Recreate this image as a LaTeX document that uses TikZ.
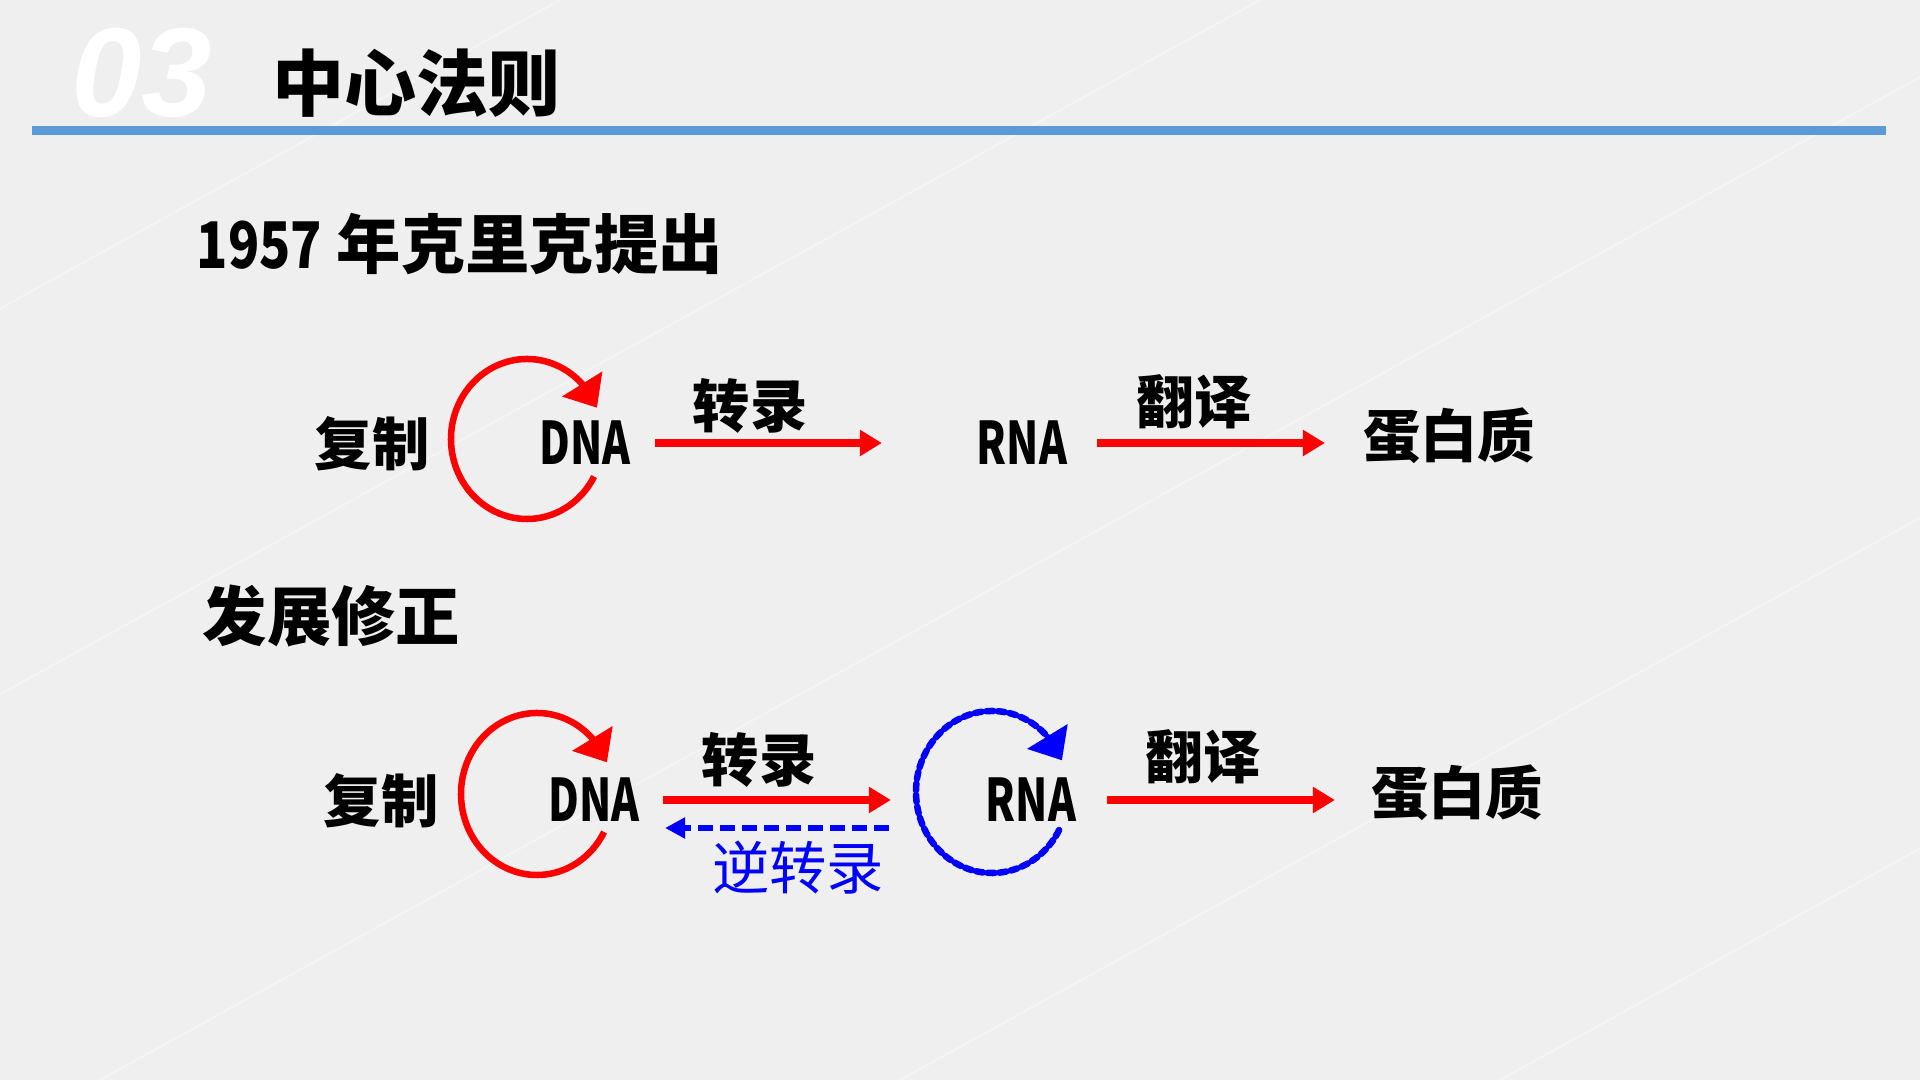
\documentclass[tikz,border=0pt]{standalone}
\usepackage{fontspec}
\setmainfont{Noto Sans CJK SC}
\newfontfamily\narrowfont{Noto Sans CJK SC}[FakeStretch=0.72]
\newfontfamily\digitfont{Noto Sans CJK SC}[FakeStretch=0.8]
\newfontfamily\numfont{Liberation Sans}
\usetikzlibrary{arrows.meta,bending}

\definecolor{slidebg}{HTML}{EFEFEF}
\definecolor{barblue}{HTML}{5B9BD5}
\definecolor{dogmared}{HTML}{FF0000}
\definecolor{dogmablue}{HTML}{0000FF}

\tikzset{
  numtitle/.style={font=\numfont\bfseries\itshape\fontsize{36pt}{40pt}\selectfont, text=white, inner sep=0pt},
  slidetitle/.style={font=\bfseries\fontsize{20.5pt}{24pt}\selectfont, inner sep=0pt, anchor=west},
  heading/.style={font=\bfseries\fontsize{18.3pt}{22pt}\selectfont, inner sep=0pt, anchor=west},
  cjklabel/.style={font=\bfseries\fontsize{16.3pt}{19pt}\selectfont, inner sep=0pt},
  nalabel/.style={font=\narrowfont\bfseries\fontsize{16.7pt}{19pt}\selectfont, inner sep=0pt},
  flow/.style={draw=dogmared, line width=0.075cm, -{Triangle[length=0.22cm, width=0.25cm]}},
  backflow/.style={draw=dogmablue, line width=0.055cm, dash pattern=on 0.15cm off 0.07cm, -{Triangle[length=0.2cm, width=0.2cm]}},
  loopred/.style={draw=dogmared, line width=0.065cm, -{Triangle[length=0.28cm, width=0.46cm, flex]}},
  loopblue/.style={draw=dogmablue, line width=0.065cm, line cap=round, dash pattern=on 2pt off 1.3pt, -{Triangle[length=0.28cm, width=0.46cm, flex]}}
}

\begin{document}
\begin{tikzpicture}[x=0.01cm, y=-0.01cm]
    % Background
    \fill[slidebg] (0,0) rectangle (1920,1080);
    \useasboundingbox (0,0) rectangle (1920,1080);
    \foreach \s in {-1400,-700,100,900,1500}
        \draw[white, line width=0.6pt, opacity=0.35] (\s,1080) -- ++(1960,-1080);

    % Header
    \node[numtitle] (num) at (142,73) {03};
    \node[slidetitle] (title) at (272,83) {中心法则};
    \fill[barblue] (32,126) rectangle (1886,135);

    % 1957
    \node[heading] (crick) at (196,244) {{\digitfont 1957} 年克里克提出};

    \node[cjklabel] (rep1) at (372,444) {复制};
    \node[nalabel] (dna1) at (585,443) {DNA};
    \node[cjklabel] (tsc1) at (750,406) {转录};
    \node[nalabel] (rna1) at (1022,443) {RNA};
    \node[cjklabel] (tsl1) at (1194,402) {翻译};
    \node[cjklabel] (prot1) at (1449,436) {蛋白质};

    \coordinate (loop1) at (527,439);
    \draw[loopred] ([shift={(28:76 and 80)}]loop1) arc[start angle=28, end angle=337, x radius=76, y radius=80];

    \draw[flow] ([xshift=0.70cm]dna1.center) -- ([xshift=-1.40cm]rna1.center);
    \draw[flow] ([xshift=0.75cm]rna1.center) -- ([xshift=-1.24cm]prot1.center |- rna1.center);

    % revised
    \node[heading] (revise) at (202,616) {发展修正};

    \node[cjklabel] (rep2) at (381,801) {复制};
    \node[nalabel] (dna2) at (594,800) {DNA};
    \node[cjklabel] (tsc2) at (759,760) {转录};
    \node[cjklabel, font=\fontsize{16.3pt}{19pt}\selectfont, text=dogmablue] (rtc2) at (798,868) {逆转录};
    \node[nalabel] (rna2) at (1031,800) {RNA};
    \node[cjklabel] (tsl2) at (1203,757) {翻译};
    \node[cjklabel] (prot2) at (1457,793) {蛋白质};

    \coordinate (loop2) at (537,794);
    \draw[loopred] ([shift={(28:76 and 81)}]loop2) arc[start angle=28, end angle=337, x radius=76, y radius=81];
    \coordinate (loop3) at (992,792);
    \draw[loopblue] ([shift={(28:76 and 81)}]loop3) arc[start angle=28, end angle=337, x radius=76, y radius=81];

    \draw[flow] ([xshift=0.69cm]dna2.center) -- ([xshift=-1.40cm]rna2.center);
    \draw[backflow] ([xshift=-1.42cm, yshift=-0.28cm]rna2.center) -- ([xshift=0.71cm, yshift=-0.28cm]dna2.center);
    \draw[flow] ([xshift=0.76cm]rna2.center) -- ([xshift=-1.22cm]prot2.center |- rna2.center);

\end{tikzpicture}
\end{document}
